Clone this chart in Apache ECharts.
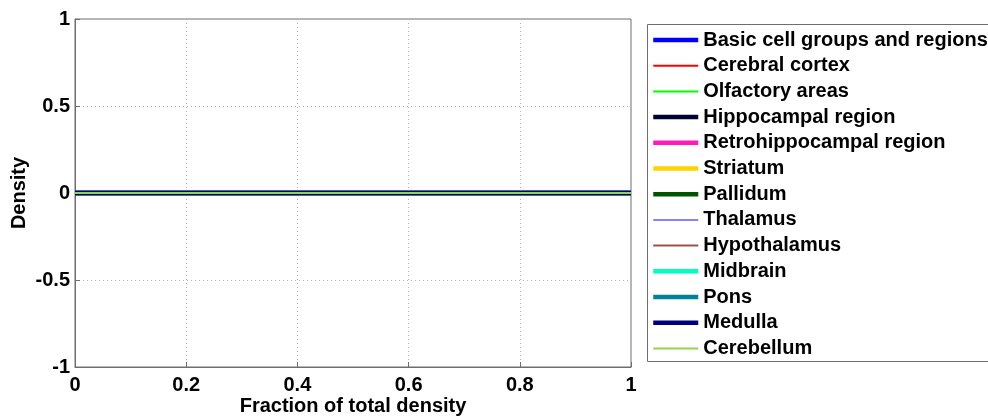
<!DOCTYPE html>
<html>
<head>
<meta charset="utf-8">
<script src="https://cdn.jsdelivr.net/npm/echarts@6/dist/echarts.min.js"></script>
<style>html,body{margin:0;padding:0;background:#fff;}#c{width:988px;height:417px;}</style>
</head>
<body>
<div id="c"></div>
<script>
var regionNames = ['Basic cell groups and regions','Cerebral cortex','Olfactory areas','Hippocampal region','Retrohippocampal region','Striatum','Pallidum','Thalamus','Hypothalamus','Midbrain','Pons','Medulla','Cerebellum'];
var regionColors = ['#0000ff','#ff0000','#00ff00','#000033','#ff1ab9','#ffd300','#005400','#8383ff','#9e4f46','#00ffc1','#008395','#00007b','#95d34f'];
var regionWidths = [4.5,2,2,4.5,4.5,4.5,4.5,2,2,4.5,4.5,4.5,2];
var xPoints = [0, 1];
var densityValues = [
  [0, 0], [0, 0], [0, 0], [0, 0], [0, 0], [0, 0], [0, 0],
  [0, 0], [0, 0], [0, 0], [0, 0], [0, 0], [0, 0]
];
var xTicks = [0, 0.2, 0.4, 0.6, 0.8, 1];
var yTicks = [-1, -0.5, 0, 0.5, 1];

var chart = echarts.init(document.getElementById('c'), null, {renderer: 'canvas'});
var font = 'Liberation Sans, Arial, sans-serif';
var series = regionNames.map(function (n, i) {
  return {
    name: n, type: 'line', symbol: 'none', animation: false,
    data: xPoints.map(function (x, j) { return [x, densityValues[i][j]]; }),
    lineStyle: {color: regionColors[i], width: regionWidths[i]},
    itemStyle: {color: regionColors[i]},
    z: 2 + i
  };
});
chart.setOption({
  animation: false,
  backgroundColor: '#fff',
  grid: {left: 75, top: 19, width: 556, height: 348, show: true, borderColor: '#6e6e6e', borderWidth: 1,
    containLabel: false, outerBoundsMode: 'none'},
  xAxis: {
    type: 'value', min: 0, max: 1, interval: 0.2,
    name: 'Fraction of total density', nameLocation: 'middle', nameGap: 29, nameMoveOverlap: false,
    nameTextStyle: {fontFamily: font, fontWeight: 'bold', fontSize: 20, color: '#000'},
    axisLine: {show: true, onZero: false, lineStyle: {color: '#6e6e6e'}},
    axisTick: {show: true, inside: true, length: 5, lineStyle: {color: '#6e6e6e'}},
    axisLabel: {margin: 8, fontFamily: font, fontWeight: 'bold', fontSize: 20, color: '#000',
      formatter: function (v) { return String(Math.round(v * 10) / 10); }},
    splitLine: {show: true, lineStyle: {color: '#b4b4b4', type: [1, 3], width: 1}}
  },
  yAxis: {
    type: 'value', min: -1, max: 1, interval: 0.5,
    name: 'Density', nameLocation: 'middle', nameGap: 46, nameRotate: 90, nameMoveOverlap: false,
    nameTextStyle: {fontFamily: font, fontWeight: 'bold', fontSize: 20, color: '#000'},
    axisLine: {show: true, onZero: false, lineStyle: {color: '#6e6e6e'}},
    axisTick: {show: true, inside: true, length: 5, lineStyle: {color: '#6e6e6e'}},
    axisLabel: {margin: 5, fontFamily: font, fontWeight: 'bold', fontSize: 20, color: '#000'},
    splitLine: {show: true, lineStyle: {color: '#b4b4b4', type: [1, 3], width: 1}}
  },
  legend: {
    orient: 'vertical', left: 651, top: 30, padding: 0,
    itemWidth: 45, itemHeight: 14, itemGap: 5.7,
    itemStyle: {opacity: 0},
    lineStyle: {width: 'inherit'},
    textStyle: {fontFamily: font, fontWeight: 'bold', fontSize: 20, color: '#000'},
    data: regionNames,
    selectedMode: false
  },
  graphic: [{
    type: 'rect', silent: true, z: -1,
    shape: {x: 647.5, y: 24.5, width: 400, height: 337},
    style: {fill: '#fff', stroke: '#6e6e6e', lineWidth: 1}
  }],
  series: series
});
</script>
</body>
</html>
